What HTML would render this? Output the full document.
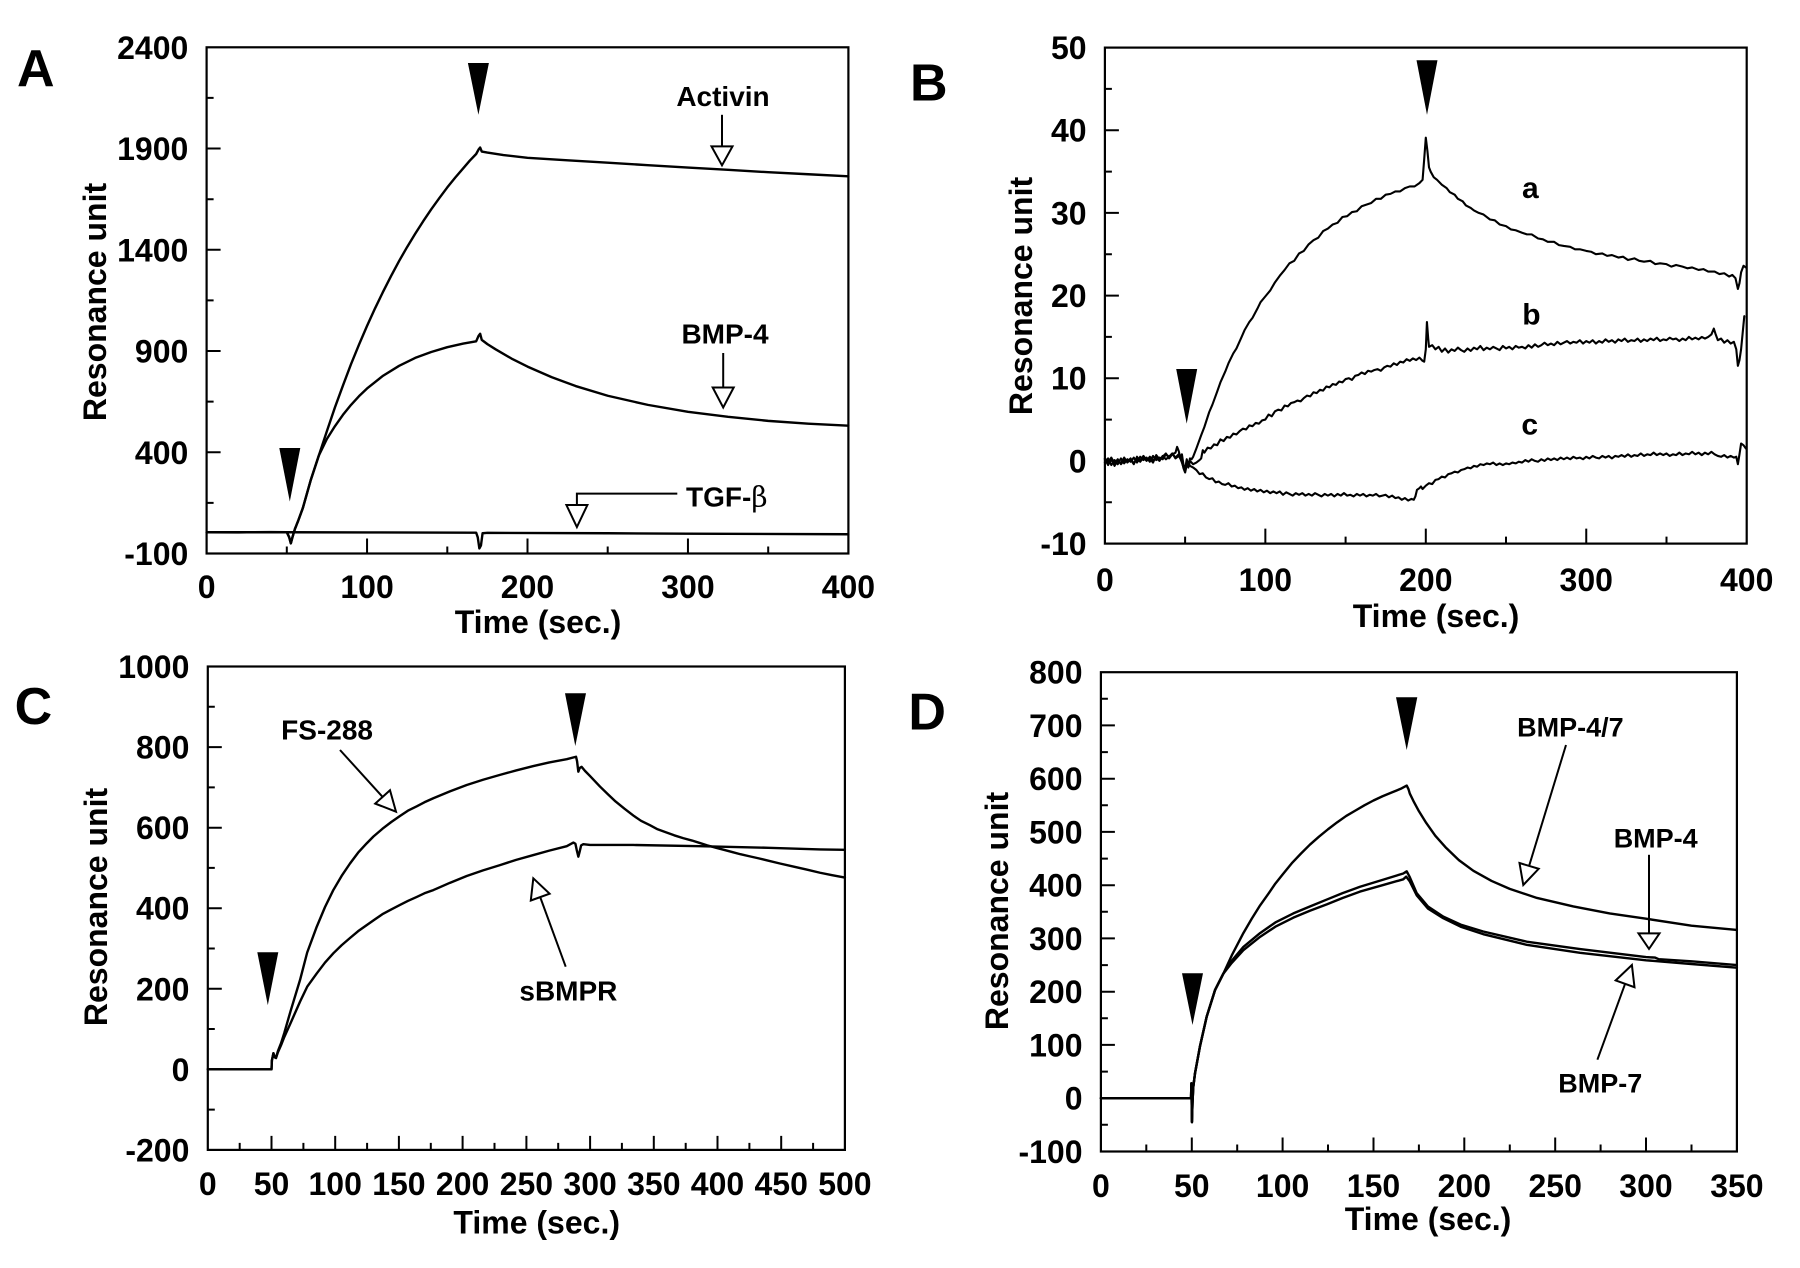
<!DOCTYPE html>
<html>
<head>
<meta charset="utf-8">
<style>
html,body{margin:0;padding:0;background:#fff;}
svg{display:block;}
text{font-family:"Liberation Sans",Arial,sans-serif;font-weight:bold;fill:#000;}
.tk{font-size:32px;}
.ttl{font-size:32px;}
.lbl{font-size:28px;}
.pl{font-size:52px;}
.ax{fill:none;stroke:#000;stroke-width:2.2;}
.tick{fill:none;stroke:#000;stroke-width:2;}
.cv{fill:none;stroke:#000;stroke-width:2.4;stroke-linejoin:round;stroke-linecap:round;}
.cvb{fill:none;stroke:#000;stroke-width:2.1;stroke-linejoin:round;stroke-linecap:round;}
.arr{fill:none;stroke:#000;stroke-width:2;}
.head{fill:#fff;stroke:#000;stroke-width:2;stroke-linejoin:miter;}
.inj{fill:#000;stroke:none;}
</style>
</head>
<body>
<svg width="1800" height="1268" viewBox="0 0 1800 1268" xmlns="http://www.w3.org/2000/svg">
<rect x="0" y="0" width="1800" height="1268" fill="#fff"/>

<!-- ================= PANEL A ================= -->
<text class="pl" x="17" y="86">A</text>
<rect class="ax" x="206.6" y="47.3" width="641.8" height="506.2"/>
<path class="tick" d="M206.6 148.5h14M206.6 249.8h14M206.6 351h14M206.6 452.3h14
M206.6 97.9h7M206.6 199.2h7M206.6 300.4h7M206.6 401.6h7M206.6 502.9h7
M367.05 553.5v-15M527.5 553.5v-15M687.95 553.5v-15
M286.8 553.5v-7M447.3 553.5v-7M607.7 553.5v-7M768.2 553.5v-7"/>
<g class="tk" text-anchor="end">
<text x="188.3" y="58.8">2400</text>
<text x="188.3" y="160">1900</text>
<text x="188.3" y="261.3">1400</text>
<text x="188.3" y="362.5">900</text>
<text x="188.3" y="463.8">400</text>
<text x="188.3" y="565">-100</text>
</g>
<g class="tk" text-anchor="middle">
<text x="206.6" y="598">0</text>
<text x="367.05" y="598">100</text>
<text x="527.5" y="598">200</text>
<text x="687.95" y="598">300</text>
<text x="848.4" y="598">400</text>
</g>
<text class="ttl" x="538" y="633" text-anchor="middle">Time (sec.)</text>
<text class="ttl" text-anchor="middle" transform="translate(106,302) rotate(-90)">Resonance unit</text>

<g transform="matrix(1.6045 0 0 -0.20248 206.6 533.25)">
<polyline class="cv" vector-effect="non-scaling-stroke" points="0,5 20,4 40,6 50,5 51.5,-20 52.5,-50 53.5,-20 55,20 57,60 60,125 65,265 70,385 75,505 80,622 85,730 90,835 95,932 100,1024 105,1111 110,1193 115,1271 120,1345 125,1414 130,1479 135,1541 140,1600 145,1655 150,1708 155,1757 160,1803 164,1840 168,1873 169.5,1895 170.5,1905 171.5,1885 175,1880 185,1868 200,1854 225,1842 250,1830 275,1818 300,1806 325,1795 350,1783 375,1773 400,1763"/>
<polyline class="cv" vector-effect="non-scaling-stroke" points="0,5 50,5 51.5,-20 52.5,-50 53.5,-20 55,20 57,60 60,125 65,265 70,385 75,466 80,529 85,585 90,634 95,677 100,715 110,778 120,827 130,866 140,895 150,919 160,937 168,948 169.5,975 170.5,985 171.5,955 175,934 180,909 190,863 200,823 215,771 230,727 250,679 275,634 300,600 325,575 350,555 375,541 400,531"/>
<polyline class="cv" vector-effect="non-scaling-stroke" points="0,5 50,5 100,4 165,3 168,3 169,-20 170,-75 171,-60 172,0 175,2 250,0 300,-2 400,-5"/>
</g>
<polygon class="inj" points="279.3,448 300.3,448 289.8,501.5"/>
<polygon class="inj" points="467.9,63 488.9,63 478.4,114.8"/>
<text class="lbl" x="723" y="106.2" text-anchor="middle">Activin</text>
<line class="arr" x1="722" y1="114.8" x2="722" y2="147"/>
<polygon class="head" points="711.5,146.4 732.5,146.4 722,165.3"/>
<text class="lbl" x="725" y="343.3" text-anchor="middle">BMP-4</text>
<line class="arr" x1="723.2" y1="353" x2="723.2" y2="388"/>
<polygon class="head" points="712.7,387.5 733.7,387.5 723.2,407.5"/>
<text class="lbl" x="686" y="506.3">TGF-<tspan font-family="'DejaVu Serif','Liberation Serif',serif" font-weight="normal">β</tspan></text>
<polyline class="arr" points="677.3,493.6 576.9,493.6 576.9,505.5"/>
<polygon class="head" points="566.4,505 587.4,505 576.9,527"/>

<!-- ================= PANEL B ================= -->
<text class="pl" x="910" y="100.5">B</text>
<rect class="ax" x="1104.9" y="47.6" width="641.8" height="496"/>
<path class="tick" d="M1104.9 130.2h14M1104.9 212.9h14M1104.9 295.6h14M1104.9 378.2h14M1104.9 460.9h14
M1104.9 88.9h7M1104.9 171.6h7M1104.9 254.2h7M1104.9 336.9h7M1104.9 419.6h7M1104.9 502.2h7
M1265.35 543.6v-15M1425.8 543.6v-15M1586.25 543.6v-15
M1185.1 543.6v-7M1345.6 543.6v-7M1506 543.6v-7M1666.5 543.6v-7"/>
<g class="tk" text-anchor="end">
<text x="1086.6" y="59.1">50</text>
<text x="1086.6" y="141.7">40</text>
<text x="1086.6" y="224.4">30</text>
<text x="1086.6" y="307.1">20</text>
<text x="1086.6" y="389.7">10</text>
<text x="1086.6" y="472.4">0</text>
<text x="1086.6" y="555.1">-10</text>
</g>
<g class="tk" text-anchor="middle">
<text x="1104.9" y="591">0</text>
<text x="1265.35" y="591">100</text>
<text x="1425.8" y="591">200</text>
<text x="1586.25" y="591">300</text>
<text x="1746.7" y="591">400</text>
</g>
<text class="ttl" x="1436" y="627" text-anchor="middle">Time (sec.)</text>
<text class="ttl" text-anchor="middle" transform="translate(1032,296) rotate(-90)">Resonance unit</text>

<g transform="matrix(1.6045 0 0 -8.267 1104.9 460.9)">
<polyline class="cvb" vector-effect="non-scaling-stroke" points="0,0.2 2,-0.5 4,0.3 6,-0.6 8,0.1 10,-0.3 12,0.4 14,-0.2 16,0.2 18,-0.4 20,0.5 22,0 24,0.6 26,0.1 28,0.3 30,-0.2 32,0.7 34,0.2 36,0.5 38,0.9 40,0.3 42,0.8 44,1.0 45,1.7 46,1.2 47,0.4 48,0.8 49,-0.5 50,-1.0 51,0.2 52,-0.6 53,0.3 54,0.2 55,0.5 57,1.5 60,3.1 62,4.1 65,5.9 67,6.8 70,8.4 72,9.5 75,10.8 77,11.8 80,13.0 82,13.6 85,14.9 87,15.8 90,16.8 92,17.3 95,18.4 97,19.2 100,19.9 103,20.6 106,21.6 109,22.4 112,23.1 115,23.9 118,24.2 121,25.1 124,25.4 127,26.2 130,26.7 133,27.0 136,27.8 139,28.1 142,28.6 145,28.8 148,29.5 151,29.6 154,30.1 157,30.2 160,30.8 163,31.0 166,31.2 169,31.7 172,31.7 175,32.2 178,32.3 181,32.6 184,32.6 187,33.0 190,33.2 193,33.2 196,33.6 198,34.0 199,36.5 200,39.1 201,37.5 202,35.5 203,35.0 205,34.3 207,34.0 210,33.4 213,33.0 215,32.5 218,32.2 220,31.7 223,31.4 225,30.9 228,30.6 230,30.3 233,30.0 236,29.8 240,29.2 243,29.1 246,28.6 250,28.4 253,28.0 256,27.9 260,27.6 263,27.4 266,27.4 270,26.9 273,26.8 276,26.5 280,26.5 283,26.1 286,26.0 290,25.9 293,25.6 296,25.6 300,25.4 303,25.3 306,25.0 310,25.1 313,24.8 316,24.9 320,24.6 323,24.7 326,24.3 330,24.5 333,24.2 336,24.1 340,24.2 343,23.8 346,23.9 350,23.8 353,23.5 356,23.7 360,23.5 363,23.3 366,23.4 370,23.1 373,23.2 376,22.9 380,22.9 383,22.6 386,22.7 389,22.3 391,22.5 393,22.1 394.5,20.8 395.5,21.5 396.5,22.8 398,23.6 399.5,23.4"/>
<polyline class="cvb" vector-effect="non-scaling-stroke" points="0,-0.2 2,0.3 4,-0.5 6,0.1 8,-0.4 10,0.3 12,-0.3 14,0.2 16,-0.1 18,0.4 20,-0.2 22,0.5 24,0.1 26,0.4 28,-0.1 30,0.6 32,0.1 34,0.4 36,0.2 38,0.8 40,0.5 42,0.9 44,0.4 46,0.8 48,-0.2 49,-0.8 50,-1.2 51,-0.3 52,-0.8 53,0 55,-0.4 57,-0.2 59,0.1 60,0.3 61,1.3 62,1.0 64,1.6 66,1.5 68,2.0 70,1.9 72,2.6 74,2.4 76,2.9 78,2.8 80,3.3 82,3.2 84,3.6 86,3.9 88,3.8 90,4.3 92,4.2 94,4.6 96,4.5 98,4.9 100,5.0 102,5.6 104,5.4 106,6.0 108,6.2 110,6.1 112,6.7 114,6.6 116,7.0 118,7.1 120,7.3 122,7.2 124,7.6 126,7.9 128,7.8 130,8.3 132,8.2 134,8.6 136,8.5 138,9.0 140,8.9 142,9.3 144,9.2 146,9.6 148,9.5 150,9.9 152,10.0 154,9.8 156,10.3 158,10.4 160,10.7 162,10.5 164,10.9 166,10.8 168,11.0 170,11.1 172,10.9 174,11.3 176,11.5 178,11.4 180,11.8 182,11.6 184,12.0 186,11.9 188,12.3 190,12.1 192,12.4 194,12.2 196,12.5 198,12.1 199,12.0 200,13.5 200.7,16.8 201.5,14.8 202,13.8 204,14.0 206,13.5 208,13.8 210,13.2 212,13.6 214,13.1 216,13.5 218,13.3 220,13.7 222,13.4 224,13.2 226,13.6 228,13.3 230,13.7 232,13.5 234,13.9 236,13.4 238,13.7 240,13.5 242,13.8 244,13.6 246,13.4 248,13.9 250,13.6 252,13.8 254,13.5 256,13.9 258,13.7 260,13.8 262,13.6 264,14.0 266,13.7 268,14.1 270,13.8 272,14.0 274,14.3 276,14.0 278,14.2 280,14.0 282,14.4 284,14.1 286,14.3 288,14.5 290,14.2 292,14.4 294,14.3 296,14.6 298,14.2 300,14.5 302,14.3 304,14.6 306,14.2 308,14.5 310,14.3 312,14.7 314,14.4 316,14.6 318,14.3 320,14.7 322,14.5 324,14.8 326,14.4 328,14.6 330,14.5 332,14.8 334,14.4 336,14.7 338,14.5 340,14.8 342,14.6 344,14.9 346,14.5 348,14.7 350,14.6 352,14.9 354,14.7 356,14.8 358,14.5 360,14.8 362,14.6 364,15.0 366,14.7 368,14.9 370,14.7 372,15.0 374,14.8 376,15.0 378,15.3 379.5,16.0 380.5,15.4 382,14.6 384,14.8 386,14.3 388,14.6 390,14.2 392,14.4 393.5,13.5 394.5,11.5 395.5,12.2 396.5,13.5 397.5,15.5 398.5,17.5"/>
<polyline class="cvb" vector-effect="non-scaling-stroke" points="0,0.3 2,-0.2 4,0.4 6,-0.3 8,0.2 10,-0.4 12,0.1 14,-0.1 16,0.3 18,-0.3 20,0.2 22,-0.1 24,0.4 26,0 28,0.5 30,0.1 32,0.4 34,0 36,0.6 38,0.2 40,0.5 42,0.9 44,0.3 46,0.6 48,0 49,-0.9 50,-1.4 51,-0.5 52,-0.2 53,-0.6 55,-0.8 57,-1.1 59,-1.6 61,-1.5 63,-2.0 65,-2.2 67,-2.1 69,-2.6 71,-2.5 73,-2.8 75,-2.9 77,-2.7 79,-3.1 81,-3.0 83,-3.3 85,-3.2 87,-3.5 89,-3.3 91,-3.6 93,-3.4 95,-3.7 97,-3.5 99,-3.8 101,-3.6 103,-3.9 105,-3.7 107,-3.9 109,-3.7 111,-4.1 113,-3.8 115,-4.0 117,-4.2 119,-3.9 121,-4.1 123,-3.9 125,-4.2 127,-4.0 129,-4.2 131,-3.9 133,-4.1 135,-4.3 137,-4.0 139,-4.2 141,-4.0 143,-4.3 145,-4.0 147,-4.2 149,-3.9 151,-4.2 153,-4.1 155,-4.3 157,-4.0 159,-4.2 161,-4.0 163,-4.3 165,-4.1 167,-4.2 169,-4.0 171,-4.3 173,-4.2 175,-4.1 177,-4.4 179,-4.2 181,-4.5 183,-4.4 185,-4.7 187,-4.5 189,-4.8 191,-4.6 192.5,-4.7 193.5,-4.3 194.5,-3.5 196,-3.3 197,-3.1 198,-3.4 200,-3.0 202,-2.7 204,-2.8 206,-2.3 208,-2.2 210,-1.9 212,-2.0 214,-1.6 216,-1.5 218,-1.3 220,-1.4 222,-1.1 224,-1.0 226,-0.8 228,-0.9 230,-0.6 232,-0.7 234,-0.4 236,-0.5 238,-0.3 240,-0.4 242,-0.2 244,-0.5 246,-0.3 248,-0.5 250,-0.3 252,-0.4 254,-0.2 256,-0.3 258,-0.1 260,-0.2 262,0.1 264,-0.1 266,0.2 268,0 270,-0.1 272,0.2 274,0 276,0.3 278,0.1 280,0.3 282,0.1 284,0.4 286,0.2 288,0.4 290,0.2 292,0.5 294,0.3 296,0.4 298,0.2 300,0.5 302,0.3 304,0.6 306,0.4 308,0.3 310,0.6 312,0.4 314,0.6 316,0.3 318,0.6 320,0.5 322,0.7 324,0.5 326,0.8 328,0.5 330,0.7 332,0.6 334,0.9 336,0.6 338,0.8 340,0.7 342,1.0 344,0.7 346,0.9 348,0.7 350,0.9 352,0.6 354,0.8 356,0.7 358,1.0 360,0.7 362,0.9 364,0.8 366,1.1 368,0.8 370,1.0 372,0.7 374,1.0 376,0.8 378,1.1 380,0.8 382,0.6 384,0.5 386,0.7 388,0.4 390,0.6 392,0.4 393.5,0.5 394.5,-0.4 395.5,0.8 396.5,2.1 398,1.9 399.5,1.5"/>
</g>
<polygon class="inj" points="1176.2,369 1197.2,369 1186.7,423.6"/>
<polygon class="inj" points="1416.5,60.3 1437.5,60.3 1427,114.8"/>
<g text-anchor="middle">
<text x="1530.3" y="198" style="font-size:30px">a</text>
<text x="1531.4" y="324.3" style="font-size:30px">b</text>
<text x="1529.7" y="434.5" style="font-size:30px">c</text>
</g>

<!-- ================= PANEL C ================= -->
<text class="pl" x="14.6" y="724">C</text>
<rect class="ax" x="207.8" y="666.5" width="637.1" height="483.4"/>
<path class="tick" d="M207.8 747.1h14M207.8 827.7h14M207.8 908.2h14M207.8 988.8h14M207.8 1069.3h14
M207.8 706.8h7M207.8 787.4h7M207.8 867.9h7M207.8 948.5h7M207.8 1029h7M207.8 1109.6h7
M271.5 1149.9v-14M335.2 1149.9v-14M398.9 1149.9v-14M462.6 1149.9v-14M526.4 1149.9v-14M590.1 1149.9v-14M653.8 1149.9v-14M717.5 1149.9v-14M781.2 1149.9v-14
M239.7 1149.9v-7M303.4 1149.9v-7M367.1 1149.9v-7M430.8 1149.9v-7M494.5 1149.9v-7M558.2 1149.9v-7M621.9 1149.9v-7M685.7 1149.9v-7M749.4 1149.9v-7M813.1 1149.9v-7"/>
<g class="tk" text-anchor="end">
<text x="189.4" y="678">1000</text>
<text x="189.4" y="758.6">800</text>
<text x="189.4" y="839.2">600</text>
<text x="189.4" y="919.7">400</text>
<text x="189.4" y="1000.3">200</text>
<text x="189.4" y="1080.8">0</text>
<text x="189.4" y="1161.4">-200</text>
</g>
<g class="tk" text-anchor="middle">
<text x="207.8" y="1195">0</text>
<text x="271.5" y="1195">50</text>
<text x="335.2" y="1195">100</text>
<text x="398.9" y="1195">150</text>
<text x="462.6" y="1195">200</text>
<text x="526.4" y="1195">250</text>
<text x="590.1" y="1195">300</text>
<text x="653.8" y="1195">350</text>
<text x="717.5" y="1195">400</text>
<text x="781.2" y="1195">450</text>
<text x="844.9" y="1195">500</text>
</g>
<text class="ttl" x="536.7" y="1233.5" text-anchor="middle">Time (sec.)</text>
<text class="ttl" text-anchor="middle" transform="translate(107,907) rotate(-90)">Resonance unit</text>

<g transform="matrix(1.2742 0 0 -0.40275 207.8 1069.3)">
<polyline class="cv" vector-effect="non-scaling-stroke" points="0,0 50,0 50.3,22 51.5,40 52.5,30 53.5,28 55,45 57.5,65 60,90 65,145 72.4,222 78,290 85.5,354 92,403 98.5,445 105,480 111.6,511 118,538 124.7,561 130,578 137,597 144,614 150.8,629 157,642 164,653 170,663 177,673 190,690 203.2,706 216,719 229.3,731 242,742 255.5,753 268,762 281.7,770 289,776 289.8,765 290.8,739 291.8,748 293.4,751 296,741 300,728 307.8,702 314,683 320,665 327,647 334,630 340,617 347,606 353,596 360,588 366,581 373,574 380,568 386,562 392,556 399,550 405,545 412,539 418,534 425,529 432,524 438.7,519 449,511 460,503 470,496 480.5,488 490,482 500,476"/>
<polyline class="cv" vector-effect="non-scaling-stroke" points="0,0 50,0 50.3,22 51.5,40 52.5,30 53.5,28 55,42 57.5,60 60,80 65,115 72.4,168 78,205 85.5,238 92,265 98.5,288 105,308 111.6,326 118,343 124.7,358 131,372 137,385 144,397 150.8,408 157,418 164,428 170,437 177,445 190,463 203.2,480 216,494 229.3,507 242,520 255.5,532 268,543 281.7,554 286.9,563 288.5,560 289.5,545 290.8,528 291.8,540 293,556 294.7,559 300,557 334,557 386.3,554 440,550 480.5,546 500,545"/>
</g>
<polygon class="inj" points="257.3,952.3 278.3,952.3 267.8,1005.1"/>
<polygon class="inj" points="565,693.3 586,693.3 575.3,746"/>
<text class="lbl" x="373" y="739.5" text-anchor="end">FS-288</text>
<line class="arr" x1="340" y1="750" x2="382.6" y2="796.9"/>
<polygon class="head" points="375.2,803.6 390,790.2 396,811.7"/>
<text class="lbl" x="568.4" y="1000.7" text-anchor="middle">sBMPR</text>
<line class="arr" x1="565.7" y1="966.7" x2="540.2" y2="897.1"/>
<polygon class="head" points="530.8,900.5 549.6,893.7 533.3,878.3"/>

<!-- ================= PANEL D ================= -->
<text class="pl" x="908.4" y="729.6">D</text>
<rect class="ax" x="1100.9" y="672.2" width="636" height="479.3"/>
<path class="tick" d="M1100.9 725.4h14M1100.9 778.7h14M1100.9 831.9h14M1100.9 885.2h14M1100.9 938.4h14M1100.9 991.7h14M1100.9 1044.9h14M1100.9 1098.2h14
M1100.9 698.8h7M1100.9 752.1h7M1100.9 805.3h7M1100.9 858.6h7M1100.9 911.8h7M1100.9 965.1h7M1100.9 1018.3h7M1100.9 1071.6h7M1100.9 1124.8h7
M1191.8 1151.5v-14M1282.6 1151.5v-14M1373.5 1151.5v-14M1464.3 1151.5v-14M1555.2 1151.5v-14M1646 1151.5v-14
M1146.3 1151.5v-7M1237.2 1151.5v-7M1328 1151.5v-7M1418.9 1151.5v-7M1509.8 1151.5v-7M1600.6 1151.5v-7M1691.5 1151.5v-7"/>
<g class="tk" text-anchor="end">
<text x="1082.5" y="683.7">800</text>
<text x="1082.5" y="736.9">700</text>
<text x="1082.5" y="790.2">600</text>
<text x="1082.5" y="843.4">500</text>
<text x="1082.5" y="896.7">400</text>
<text x="1082.5" y="949.9">300</text>
<text x="1082.5" y="1003.2">200</text>
<text x="1082.5" y="1056.4">100</text>
<text x="1082.5" y="1109.7">0</text>
<text x="1082.5" y="1163">-100</text>
</g>
<g class="tk" text-anchor="middle">
<text x="1100.9" y="1197">0</text>
<text x="1191.8" y="1197">50</text>
<text x="1282.6" y="1197">100</text>
<text x="1373.5" y="1197">150</text>
<text x="1464.3" y="1197">200</text>
<text x="1555.2" y="1197">250</text>
<text x="1646" y="1197">300</text>
<text x="1736.9" y="1197">350</text>
</g>
<text class="ttl" x="1428" y="1230" text-anchor="middle">Time (sec.)</text>
<text class="ttl" text-anchor="middle" transform="translate(1008,911) rotate(-90)">Resonance unit</text>

<g transform="matrix(1.8171 0 0 -0.53256 1100.9 1098.2)">
<polyline class="cv" vector-effect="non-scaling-stroke" points="0,0 49.6,0 49.8,28 50.1,-45 50.4,-10 50.8,20 51.8,47 54.5,97 58.2,153 62.8,203 67.4,234 72,268 78.4,310 83,337 87.6,362 92,383 96,403 100,420 105,441 110,459 115,476 120,491 125,505 130,518 135,530 140,540 145,550 150,559 155,567 160,574 165,581 168.3,587 169.3,580 170,572 172,558 175,539 179,517 184,493 190,470 197,447 205,427 215,408 225,393 240,376 260,360 280,347 300,337 325,324 350,316"/>
<polyline class="cv" vector-effect="non-scaling-stroke" points="0,0 49.6,0 49.8,28 50.1,-45 50.4,-10 50.8,20 51.8,47 54.5,97 58.2,153 62.8,203 67.4,234 72,258 78.4,284 87.6,310 96,330 105.9,347 115,360 124.3,373 133,385 142.6,397 155,410 166.4,422 168.3,426 170,415 173.8,385 180,360 188.4,341 198,326 210.4,313 234.3,294 263.7,280 300,265 305,264 307,261 325,257 350,250"/>
<polyline class="cv" vector-effect="non-scaling-stroke" points="0,0 49.6,0 49.8,28 50.1,-45 50.4,-10 50.8,20 51.8,47 54.5,97 58.2,153 62.8,203 67.4,234 72,254 78.4,278 87.6,303 96,322 105.9,339 115,352 124.3,364 133,376 142.6,388 155,400 166.4,411 168,416 170,407 173.8,381 180,356 188.4,338 198,322 210.4,308 234.3,288 263.7,273 300,259 325,252 350,245"/>
</g>
<polygon class="inj" points="1182,973.3 1203,973.3 1192.5,1025"/>
<polygon class="inj" points="1396,697.3 1417.3,697.3 1406.7,750"/>
<g text-anchor="middle">
<text x="1570.4" y="736.5" style="font-size:27px">BMP-4/7</text>
<text x="1655.7" y="847.3" style="font-size:27px">BMP-4</text>
<text x="1600.3" y="1092.4" style="font-size:27px">BMP-7</text>
</g>
<line class="arr" x1="1566" y1="745" x2="1529.1" y2="865.9"/>
<polygon class="head" points="1519.5,863 1538.7,868.8 1523.3,885"/>
<line class="arr" x1="1649" y1="854.8" x2="1649" y2="934"/>
<polygon class="head" points="1638.5,933.4 1659.5,933.4 1649,948.9"/>
<line class="arr" x1="1597.4" y1="1059.7" x2="1625.1" y2="983.8"/>
<polygon class="head" points="1615.7,980.4 1634.5,987.2 1631.9,965"/>
</svg>
</body>
</html>
